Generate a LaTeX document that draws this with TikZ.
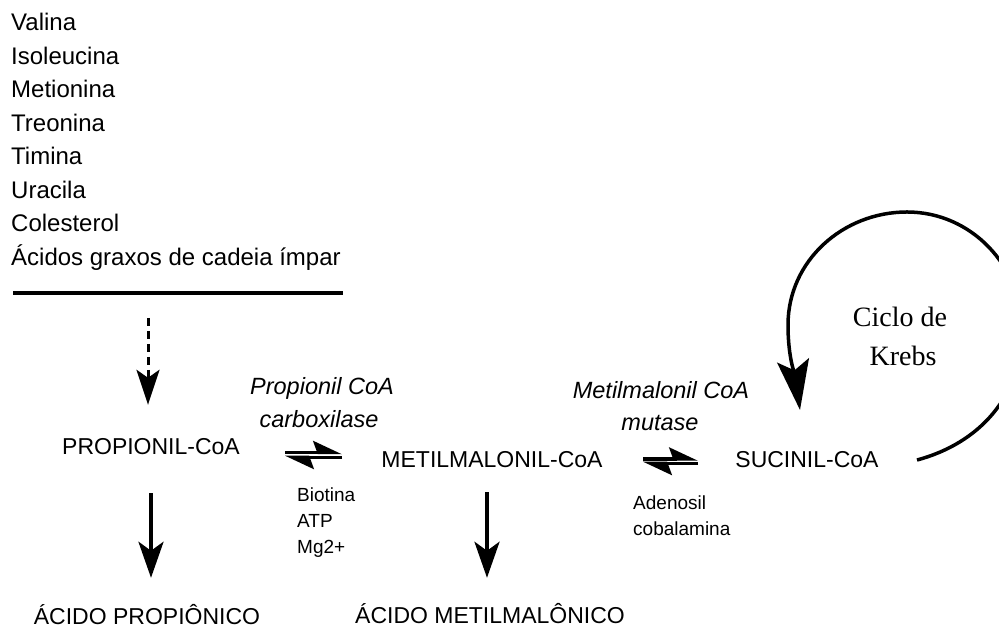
\documentclass[tikz,border=0pt]{standalone}
\usepackage{fontspec}
\setmainfont{Liberation Sans}
\newfontfamily\krebsfont{Liberation Serif}
\usetikzlibrary{arrows.meta}

\begin{document}
\begin{tikzpicture}[x=1pt,y=1pt,
  listtxt/.style={anchor=base west, inner sep=0pt, font=\fontsize{24}{28}\selectfont},
  compound/.style={anchor=base, inner sep=0pt, text height=16pt, text depth=0pt, font=\fontsize{23}{27}\selectfont},
  enzyme/.style={anchor=base, inner sep=0pt, font=\fontsize{23.5}{28}\selectfont\itshape},
  cofactor/.style={anchor=base west, inner sep=0pt, font=\fontsize{19}{23}\selectfont},
  krebstxt/.style={anchor=base, inner sep=0pt, font=\krebsfont\fontsize{28}{32}\selectfont},
  convert/.style={line width=4pt, -{Stealth[length=36pt,width=25pt,inset=9pt]}},
  source/.style={line width=3pt, dash pattern=on 8pt off 5pt, -{Stealth[length=35pt,width=23pt,inset=8pt]}},
  eqhalf/.style={line width=3.5pt, -{Stealth[harpoon,length=25pt,width=23pt,inset=4pt]}},
  cycle/.style={line width=3.5pt, -{Stealth[length=50pt,width=32pt,inset=10pt]}}
]
\clip (0,0) rectangle (999,634);

% precursors
\node[listtxt] (l1) at (11,603) {Valina};
\node[listtxt] (l2) at (11,569.5) {Isoleucina};
\node[listtxt] (l3) at (11,536) {Metionina};
\node[listtxt] (l4) at (11,502.5) {Treonina};
\node[listtxt] (l5) at (11,469) {Timina};
\node[listtxt] (l6) at (11,435.5) {Uracila};
\node[listtxt] (l7) at (11,402) {Colesterol};
\node[listtxt] (l8) at (11,368.5) {Ácidos graxos de cadeia ímpar};
\draw[line width=4pt] (13,341) -- (343,341);
\coordinate (src) at (148,316);

% main intermediates and products
\node[compound] (prop) at (151,179) {PROPIONIL-CoA};
\node[compound] (metil) at (492,166) {METILMALONIL-CoA};
\node[compound] (suc) at (807,166) {SUCINIL-CoA};
\node[compound] (acprop) at (147,9) {ÁCIDO PROPIÔNICO};
\node[compound] (acmetil) at (490,10) {ÁCIDO METILMALÔNICO};

% enzymes and cofactors
\node[enzyme] (e1a) at (322,239) {Propionil CoA};
\node[enzyme] (e1b) at (319,206) {carboxilase};
\node[enzyme] (e2a) at (661,235) {Metilmalonil CoA};
\node[enzyme] (e2b) at (660,203) {mutase};
\node[cofactor] (c1) at (297,132) {Biotina};
\node[cofactor] (c2) at (297,106) {ATP};
\node[cofactor] (c3) at (297,80) {Mg2+};
\node[cofactor] (c4) at (633,124) {Adenosil};
\node[cofactor] (c5) at (633,98) {cobalamina};

% Krebs cycle
\node[krebstxt] (k1) at (900,307) {Ciclo de};
\node[krebstxt] (k2) at (903,268) {Krebs};
\coordinate (kin) at (917,174);
\coordinate (kout) at (800,224);
\draw[cycle] (kin) to[out=15,in=-90] (1022,304) to[out=90,in=0] (907,422)
  to[out=180,in=90] (788,309) to[out=-90,in=98] (kout);

% reaction arrows
\draw[source, shorten >=34pt] (src) -- (src |- prop.north);
\draw[convert, shorten <=38pt, shorten >=31pt] (prop.south) -- (prop.south |- acprop.north);
\draw[convert, shorten <=24pt, shorten >=30pt] ([xshift=-5pt]metil.south) -- ([xshift=-5pt]metil.south |- acmetil.north);

% reversible steps
\coordinate (h1a) at (285,181.5); \coordinate (h1b) at (342,181.5);
\coordinate (h1c) at (342,176.5); \coordinate (h1d) at (285,176.5);
\draw[eqhalf] (h1a) -- (h1b);
\draw[eqhalf] (h1c) -- (h1d);
\coordinate (h2a) at (643,175); \coordinate (h2b) at (698,175);
\coordinate (h2c) at (698,170.5); \coordinate (h2d) at (643,170.5);
\draw[eqhalf] (h2a) -- (h2b);
\draw[eqhalf] (h2c) -- (h2d);
\end{tikzpicture}
\end{document}
